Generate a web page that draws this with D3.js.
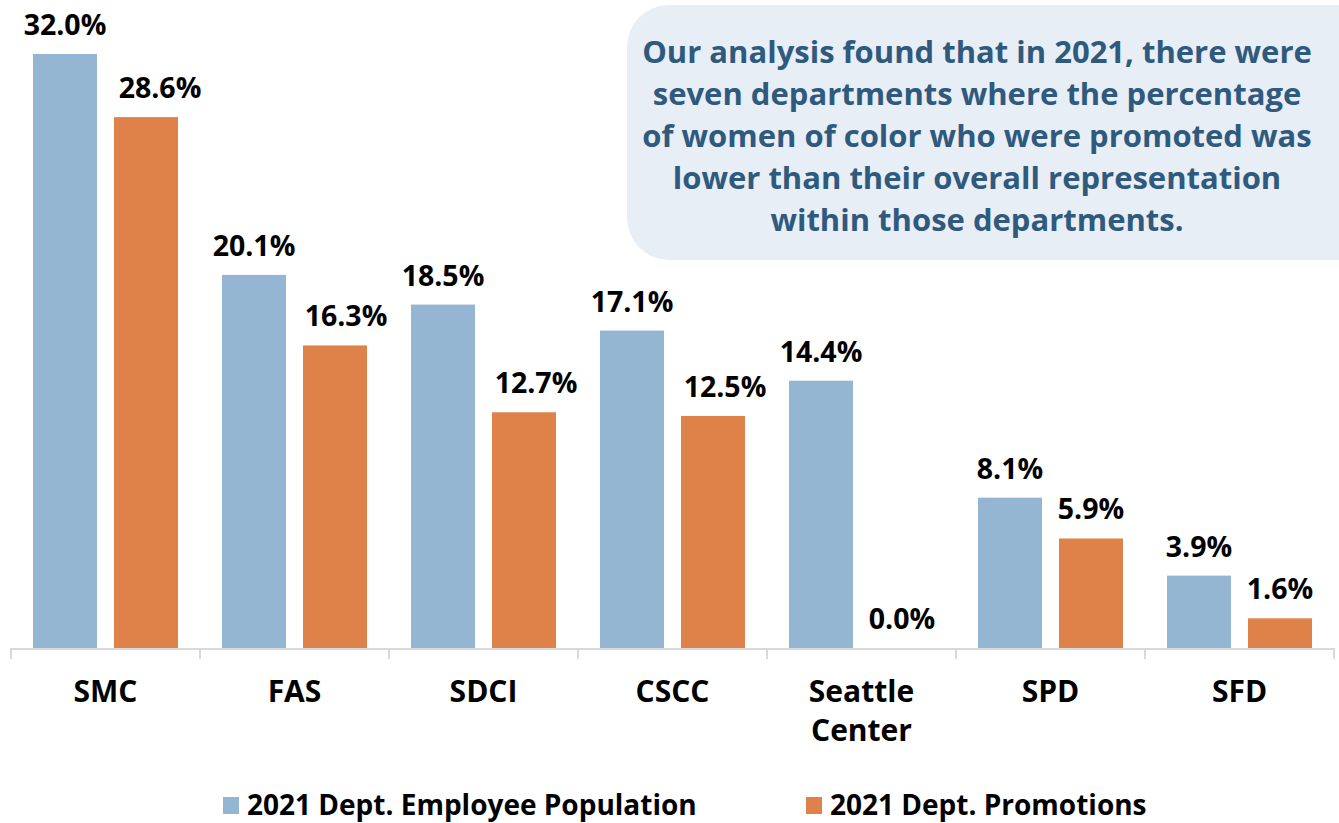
<!DOCTYPE html>
<html>
<head>
<meta charset="utf-8">
<script src="https://cdn.jsdelivr.net/npm/d3@7"></script>
<style>
  html, body { margin: 0; padding: 0; background: #fff; }
  svg { display: block; font-family: "Open Sans", "Noto Sans", sans-serif; font-weight: 700; }
</style>
</head>
<body>
<div id="chart"></div>
<script>
// data
var categories = ["SMC", "FAS", "SDCI", "CSCC", "Seattle Center", "SPD", "SFD"];
var series = ["2021 Dept. Employee Population", "2021 Dept. Promotions"];
var population = [32.0, 20.1, 18.5, 17.1, 14.4, 8.1, 3.9];
var promotions = [28.6, 16.3, 12.7, 12.5, 0.0, 5.9, 1.6];
var note = [
  "Our analysis found that in 2021, there were",
  "seven departments where the percentage",
  "of women of color who were promoted was",
  "lower than their overall representation",
  "within those departments."
];

var width = 1339, height = 823;
var colors = ["#95b6d3", "#df8249"];
var baseY = 648;

var svg = d3.select("#chart").append("svg")
    .attr("width", width)
    .attr("height", height);

var x = d3.scaleBand().domain(categories).range([11, 1334]);
var x1 = d3.scaleBand().domain(series).range([22, x.bandwidth() - 22]).paddingInner(17 / 81);
var y = d3.scaleLinear().domain([0, 32]).range([baseY, 54]);

var rows = categories.map(function(c, i){
  return { cat: c, vals: [population[i], promotions[i]] };
});

// note box in the upper right
var box = svg.append("g");
box.append("rect")
    .attr("x", 627).attr("y", 5)
    .attr("width", 760).attr("height", 255)
    .attr("rx", 42).attr("ry", 42)
    .attr("fill", "#e8eef5");
box.selectAll("text")
    .data(note)
    .enter()
    .append("text")
    .attr("x", 977)
    .attr("y", function(d, i){ return 63 + i * 42; })
    .attr("text-anchor", "middle")
    .attr("font-size", 31)
    .attr("fill", "#2f5a7e")
    .text(function(d){ return d; });

// bars
var groups = svg.selectAll(".cat")
    .data(rows)
    .enter()
    .append("g")
    .classed("cat", true)
    .attr("transform", function(d){ return "translate(" + x(d.cat) + ",0)"; });

groups.selectAll("rect")
    .data(function(d){ return d.vals.map(function(v, j){ return { s: series[j], v: v, j: j }; }); })
    .enter()
    .append("rect")
    .attr("x", function(d){ return x1(d.s); })
    .attr("y", function(d){ return y(d.v); })
    .attr("width", x1.bandwidth())
    .attr("height", function(d){ return baseY - y(d.v); })
    .attr("fill", function(d){ return colors[d.j]; });

// orange labels in the first few groups sit a little to the right in the original
var nudge = { "SMC": 14, "FAS": 11, "SDCI": 12, "CSCC": 12 };

groups.each(function(row){
  d3.select(this).selectAll(".val")
      .data(row.vals)
      .enter()
      .append("text")
      .classed("val", true)
      .attr("x", function(v, j){
        var dx = (j === 1 && nudge[row.cat]) ? nudge[row.cat] : 0;
        return x1(series[j]) + x1.bandwidth() / 2 + dx;
      })
      .attr("y", function(v){ return y(v) - 19; })
      .attr("text-anchor", "middle")
      .attr("font-size", 28.5)
      .attr("fill", "#000")
      .text(function(v){ return v.toFixed(1) + "%"; });
});

// axis line and tick marks at category boundaries
var axis = svg.append("g").attr("stroke", "#d9d9d9").attr("stroke-width", 2);
axis.append("line")
    .attr("x1", x.range()[0]).attr("x2", x.range()[1])
    .attr("y1", baseY + 1).attr("y2", baseY + 1);
var edges = categories.map(function(c){ return x(c); }).concat([x.range()[1]]);
axis.selectAll(".tick")
    .data(edges)
    .enter()
    .append("line")
    .attr("x1", function(d){ return d; }).attr("x2", function(d){ return d; })
    .attr("y1", baseY).attr("y2", baseY + 11);

// category labels (wrap two-word names)
svg.selectAll(".cat-label")
    .data(categories)
    .enter()
    .append("text")
    .classed("cat-label", true)
    .attr("text-anchor", "middle")
    .attr("font-size", 30)
    .attr("fill", "#000")
    .each(function(c){
      var words = c.split(" ");
      var t = d3.select(this);
      words.forEach(function(w, k){
        t.append("tspan")
            .attr("x", x(c) + x.bandwidth() / 2)
            .attr("y", 702 + k * 39)
            .text(w);
      });
    });

// legend
var legendX = [223, 806];
var legend = svg.selectAll(".legend")
    .data(series)
    .enter()
    .append("g")
    .classed("legend", true)
    .attr("transform", function(d, i){ return "translate(" + legendX[i] + ",797)"; });
legend.append("rect")
    .attr("width", 16).attr("height", 17)
    .attr("fill", function(d, i){ return colors[i]; });
legend.append("text")
    .attr("x", 24).attr("y", 18)
    .attr("font-size", 28)
    .attr("fill", "#000")
    .text(function(d){ return d; });
</script>
</body>
</html>
